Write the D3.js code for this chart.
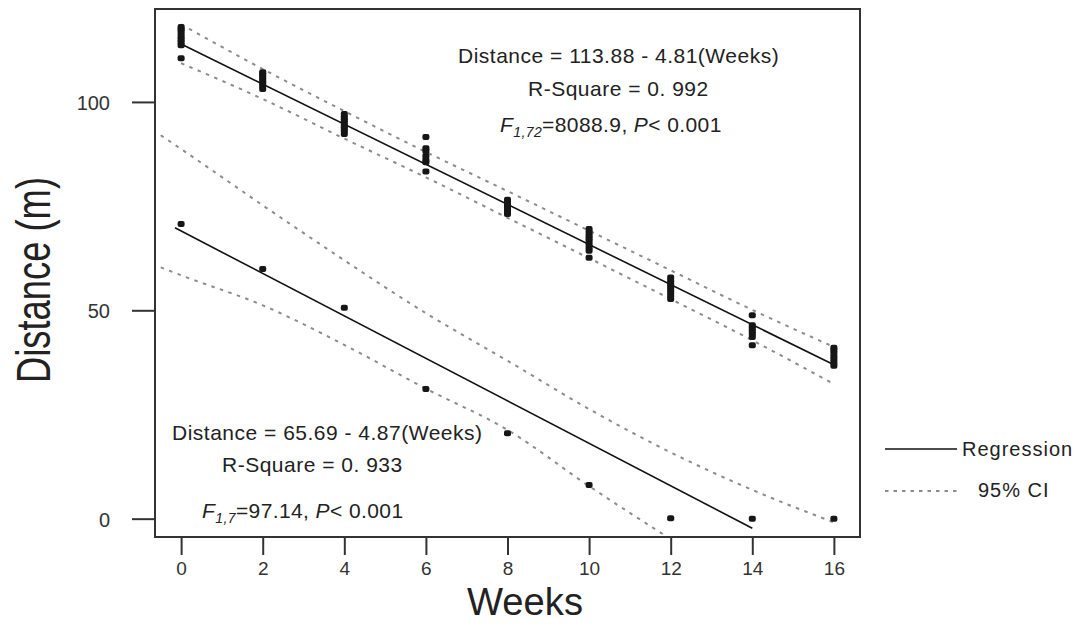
<!DOCTYPE html>
<html>
<head>
<meta charset="utf-8">
<script src="https://cdn.jsdelivr.net/npm/d3@7"></script>
<style>
  html, body { margin: 0; padding: 0; background: #fff; }
  svg text { font-family: "Liberation Sans", Arial, sans-serif; fill: #222; }
</style>
</head>
<body>
<script>
const width = 1091;
const height = 624;

// data
const weeks = [0, 2, 4, 6, 8, 10, 12, 14, 16];
const tickWeeks = [0, 2, 4, 6, 8, 10, 12, 14, 16];
const tickDistances = [0, 50, 100];

// upper group: several fish per week
const upperGroupDistances = [
  [110.5, 113.6, 114.3, 115.0, 115.6, 116.3, 117.0, 117.5, 118.0],
  [103.1, 103.8, 104.5, 105.0, 105.6, 106.2, 106.7, 107.1],
  [92.3, 93.0, 93.7, 94.3, 95.0, 95.6, 96.3, 97.1],
  [83.3, 85.5, 86.1, 87.0, 88.2, 88.9, 91.6],
  [73.1, 73.8, 74.4, 75.0, 75.5, 76.0, 76.5],
  [62.6, 64.3, 65.0, 65.8, 66.6, 67.3, 68.0, 68.8, 69.5],
  [52.7, 53.5, 54.3, 55.0, 55.7, 56.4, 57.1, 57.9],
  [41.6, 43.6, 44.3, 45.0, 45.7, 46.4, 48.8],
  [36.7, 37.4, 38.2, 39.0, 39.8, 40.5, 41.0]
];
const lowerGroupDistances = [70.7, 59.9, 50.6, 31.1, 20.5, 8.1, 0.1, 0, 0];

const upperFitWeeks = [0, 16];
const upperFitValues = [113.88, 36.92];
const lowerFitWeeks = [-0.15, 14];
const lowerFitValues = [69.8, -2.3];

const upperCiWeeks = [0, 2, 4, 6, 8, 10, 12, 14, 16];
const upperCiHigh = [118.6, 107.9, 97.8, 88.0, 78.6, 69.1, 59.6, 50.1, 41.2];
const upperCiLow = [109.3, 100.7, 91.2, 81.9, 72.2, 62.5, 52.7, 42.8, 32.3];

const lowerCiWeeks = [-0.5, 0, 2, 4, 6, 8, 10, 12, 14, 16];
const lowerCiHigh = [92.0, 88.7, 75.2, 62.0, 49.3, 37.9, 26.3, 15.9, 6.9, -0.9];
const lowerCiLow = [60.3, 58.4, 51.2, 41.7, 31.2, 21.3, 7.8, -4.9];

// plot frame
const frame = { left: 155, top: 9, right: 860, bottom: 537 };

function main() {
  const svg = d3.select('body').append('svg').attr('width', width).attr('height', height);

  const x = d3.scaleLinear().domain([-0.64, 16.64]).range([frame.left, frame.right]);
  const y = d3.scaleLinear().domain([-4.4, 122.3]).range([frame.bottom, frame.top]);

  svg.append('clipPath').attr('id', 'plot-clip')
    .append('rect')
    .attr('x', frame.left).attr('y', frame.top)
    .attr('width', frame.right - frame.left).attr('height', frame.bottom - frame.top);

  drawAxes(svg, x, y);

  const plot = svg.append('g').attr('clip-path', 'url(#plot-clip)');

  drawCi(plot, x, y, upperCiWeeks, upperCiHigh);
  drawCi(plot, x, y, upperCiWeeks, upperCiLow);
  drawCi(plot, x, y, lowerCiWeeks, lowerCiHigh);
  drawCi(plot, x, y, lowerCiWeeks, lowerCiLow);

  drawFit(plot, x, y, upperFitWeeks, upperFitValues);
  drawFit(plot, x, y, lowerFitWeeks, lowerFitValues);

  const upperPoints = upperGroupDistances.flatMap((list, i) => list.map(v => ({ week: weeks[i], value: v })));
  const lowerPoints = lowerGroupDistances.map((v, i) => ({ week: weeks[i], value: v }));
  drawPoints(plot, x, y, upperPoints.concat(lowerPoints));

  // frame
  svg.append('rect')
    .attr('x', frame.left).attr('y', frame.top)
    .attr('width', frame.right - frame.left).attr('height', frame.bottom - frame.top)
    .attr('fill', 'none').attr('stroke', '#333').attr('stroke-width', 2);

  drawAnnotations(svg);
  drawLegend(svg);
}

function drawAxes(svg, x, y) {
  const xAxis = svg.append('g')
    .attr('transform', `translate(0,${frame.bottom})`)
    .call(d3.axisBottom(x).tickValues(tickWeeks).tickSize(18).tickPadding(7).tickFormat(d3.format('d')));
  const yAxis = svg.append('g')
    .attr('transform', `translate(${frame.left},0)`)
    .call(d3.axisLeft(y).tickValues(tickDistances).tickSize(23).tickPadding(22).tickFormat(d3.format('d')));

  [xAxis, yAxis].forEach(a => {
    a.select('.domain').remove();
    a.selectAll('line').attr('stroke', '#333').attr('stroke-width', 2);
    a.selectAll('text').attr('font-size', 19).style('fill', '#333')
      .attr('font-family', '"Liberation Sans", Arial, sans-serif');
  });
  yAxis.selectAll('text').attr('font-size', 20).attr('dy', '0.37em');

  svg.append('text')
    .attr('x', 525).attr('y', 615)
    .attr('text-anchor', 'middle')
    .attr('font-size', 38)
    .attr('textLength', 116).attr('lengthAdjust', 'spacingAndGlyphs')
    .text('Weeks');

  svg.append('text')
    .attr('transform', 'translate(50,280) rotate(-90)')
    .attr('text-anchor', 'middle')
    .attr('font-size', 48)
    .attr('textLength', 206).attr('lengthAdjust', 'spacingAndGlyphs')
    .text('Distance (m)');
}

function drawCi(g, x, y, xs, values) {
  const pts = values.map((v, i) => [xs[i], v]);
  g.append('path')
    .attr('d', d3.line().x(d => x(d[0])).y(d => y(d[1])).curve(d3.curveMonotoneX)(pts))
    .attr('fill', 'none')
    .attr('stroke', '#8c8c8c')
    .attr('stroke-width', 2)
    .attr('stroke-dasharray', '3.5,5.5');
}

function drawFit(g, x, y, xs, values) {
  const pts = values.map((v, i) => [xs[i], v]);
  g.append('path')
    .attr('d', d3.line().x(d => x(d[0])).y(d => y(d[1]))(pts))
    .attr('fill', 'none')
    .attr('stroke', '#111')
    .attr('stroke-width', 1.6);
}

function drawPoints(g, x, y, points) {
  g.selectAll('rect.pt')
    .data(points)
    .enter()
    .append('rect')
    .attr('class', 'pt')
    .attr('x', d => x(d.week) - 3.5)
    .attr('y', d => y(d.value) - 3)
    .attr('width', 7)
    .attr('height', 6)
    .attr('rx', 2)
    .attr('fill', '#161616');
}

function fLine(svg, xPos, yPos, sub, rest) {
  const t = svg.append('text')
    .attr('x', xPos).attr('y', yPos)
    .attr('font-size', 21)
    .attr('letter-spacing', 0.4);
  t.append('tspan').attr('font-style', 'italic').text('F');
  t.append('tspan').attr('font-style', 'italic').attr('font-size', 14).attr('dy', 5).text(sub);
  t.append('tspan').attr('dy', -5).text(rest);
  t.append('tspan').attr('font-style', 'italic').text('P');
  t.append('tspan').text('< 0.001');
}

function drawAnnotations(svg) {
  const plain = (xPos, yPos, txt) => svg.append('text')
    .attr('x', xPos).attr('y', yPos)
    .attr('font-size', 21)
    .attr('letter-spacing', 0.5)
    .text(txt);

  plain(458, 63, 'Distance = 113.88 - 4.81(Weeks)');
  plain(528, 96, 'R-Square = 0. 992');
  fLine(svg, 500, 132, '1,72', '=8088.9, ');

  plain(172, 440, 'Distance = 65.69 - 4.87(Weeks)');
  plain(222, 472, 'R-Square = 0. 933');
  fLine(svg, 202, 518, '1,7', '=97.14, ');
}

function drawLegend(svg) {
  svg.append('line')
    .attr('x1', 885).attr('x2', 957).attr('y1', 449).attr('y2', 449)
    .attr('stroke', '#111').attr('stroke-width', 1.6);
  svg.append('text')
    .attr('x', 962).attr('y', 456)
    .attr('font-size', 20).attr('letter-spacing', 1)
    .text('Regression');

  svg.append('line')
    .attr('x1', 885).attr('x2', 957).attr('y1', 491).attr('y2', 491)
    .attr('stroke', '#8c8c8c').attr('stroke-width', 2)
    .attr('stroke-dasharray', '3.5,5');
  svg.append('text')
    .attr('x', 978).attr('y', 497)
    .attr('font-size', 20).attr('letter-spacing', 1)
    .text('95% CI');
}

main();
</script>
</body>
</html>
